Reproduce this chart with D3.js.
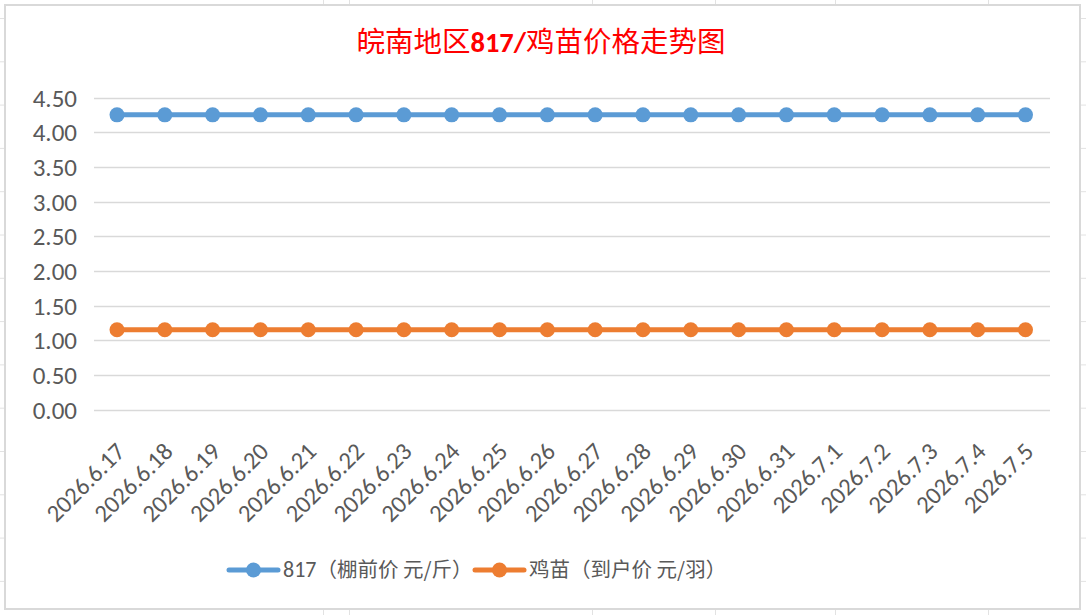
<!DOCTYPE html>
<html><head><meta charset="utf-8">
<script src="https://cdn.jsdelivr.net/npm/d3@7"></script>
<style>
html,body{margin:0;padding:0;background:#fff;}
svg{display:block;}
</style></head>
<body>
<svg id="c" width="1086" height="615"></svg>
<script>
const categories = ["2026.6.17","2026.6.18","2026.6.19","2026.6.20","2026.6.21","2026.6.22","2026.6.23","2026.6.24","2026.6.25","2026.6.26","2026.6.27","2026.6.28","2026.6.29","2026.6.30","2026.6.31","2026.7.1","2026.7.2","2026.7.3","2026.7.4","2026.7.5"];
const price817 = [4.25,4.25,4.25,4.25,4.25,4.25,4.25,4.25,4.25,4.25,4.25,4.25,4.25,4.25,4.25,4.25,4.25,4.25,4.25,4.25];
const chickPrice = [1.15,1.15,1.15,1.15,1.15,1.15,1.15,1.15,1.15,1.15,1.15,1.15,1.15,1.15,1.15,1.15,1.15,1.15,1.15,1.15];
const yTicks = [0,0.5,1,1.5,2,2.5,3,3.5,4,4.5];
const seriesNames = [["817","（棚前价 元/斤）"],["","鸡苗（到户价 元/羽）"]];
const titleParts = [["皖南地区",false],["817/",true],["鸡苗价格走势图",false]];

const colors = ["#5B9BD5","#ED7D31"];
const svg = d3.select("#c");
const font = "'Noto Sans CJK SC','Noto Sans',sans-serif";
const latin = "Carlito,Calibri,'Liberation Sans','Noto Sans',sans-serif";

// spreadsheet background fragments
const bg = svg.append("g").attr("stroke","#e2e2e2").attr("stroke-width",1);
d3.range(0,14).forEach(k=>{
  const y = 18 + 43.3*k + 0.5;
  bg.append("line").attr("x1",0).attr("x2",4).attr("y1",y).attr("y2",y);
  bg.append("line").attr("x1",1081).attr("x2",1086).attr("y1",y).attr("y2",y);
});
[323,349,592,715,835,988].forEach(x=>{
  bg.append("line").attr("x1",x+0.5).attr("x2",x+0.5).attr("y1",0).attr("y2",4);
  bg.append("line").attr("x1",x+0.5).attr("x2",x+0.5).attr("y1",610).attr("y2",615);
});

// chart area
svg.append("rect").attr("x",5).attr("y",5).attr("width",1075).attr("height",604)
  .attr("fill","#fff").attr("stroke","#d9d9d9").attr("stroke-width",2);

const x = d3.scalePoint().domain(categories).range([117,1025.5]);
const y = d3.scaleLinear().domain([0,4.5]).range([409.5,97.5]);

// gridlines
svg.append("g").selectAll("line").data(yTicks).join("line")
  .attr("x1",94).attr("x2",1050)
  .attr("y1",d=>Math.round(y(d))+0.5).attr("y2",d=>Math.round(y(d))+0.5)
  .attr("stroke","#d9d9d9").attr("stroke-width",1.5);

// y axis labels
const yAxis = d3.axisLeft(y).tickValues(yTicks).tickFormat(d3.format(".2f")).tickSize(0).tickPadding(0);
const ya = svg.append("g").attr("transform","translate(77,0)").call(yAxis);
ya.select(".domain").remove();
ya.selectAll("text").attr("font-family",latin).attr("font-size",25).attr("fill","#595959").attr("dy","0.35em");

// x axis labels
const xAxis = d3.axisBottom(x).tickSize(0).tickPadding(0);
const xa = svg.append("g").attr("transform","translate(0,409)").call(xAxis);
xa.select(".domain").remove();
xa.selectAll("text")
  .attr("font-family",latin).attr("font-size",24.5).attr("fill","#595959")
  .attr("text-anchor","end").attr("dy",0).attr("y",0)
  .attr("transform","translate(9,44) rotate(-45)");

// series
const data = [price817, chickPrice];
const line = d3.line().x((d,i)=>x(categories[i])).y(d=>y(d));
data.forEach((s,si)=>{
  const g = svg.append("g");
  g.append("path").datum(s).attr("d",line).attr("fill","none")
    .attr("stroke",colors[si]).attr("stroke-width",5).attr("stroke-linecap","round");
  g.selectAll("circle").data(s).join("circle")
    .attr("cx",(d,i)=>x(categories[i])).attr("cy",d=>y(d)).attr("r",7.5)
    .attr("fill",colors[si]);
});

// title
const t = svg.append("text").attr("x",541).attr("y",52).attr("text-anchor","middle")
  .attr("fill","#FF0000");
titleParts.forEach(([s,b])=>{
  t.append("tspan").text(s).attr("font-weight",b?"bold":"normal")
   .attr("font-size", 28.5)
   .attr("font-family", b? latin : font);
});

// legend
const legX = [229, 475];
const leg = svg.append("g");
seriesNames.forEach((n,i)=>{
  const lx = legX[i], ly = 570;
  leg.append("line").attr("x1",lx).attr("x2",lx+49).attr("y1",ly).attr("y2",ly)
    .attr("stroke",colors[i]).attr("stroke-width",5).attr("stroke-linecap","round");
  leg.append("circle").attr("cx",lx+24.5).attr("cy",ly).attr("r",7.5).attr("fill",colors[i]);
  const tx = leg.append("text").attr("x",lx+54).attr("y",ly).attr("dy","0.35em")
    .attr("font-size",20.5).attr("fill","#595959");
  if (n[0]) tx.append("tspan").attr("font-family",latin).attr("font-size",22).text(n[0]);
  tx.append("tspan").attr("font-family",font).text(n[1]);
});
</script>
</body></html>
